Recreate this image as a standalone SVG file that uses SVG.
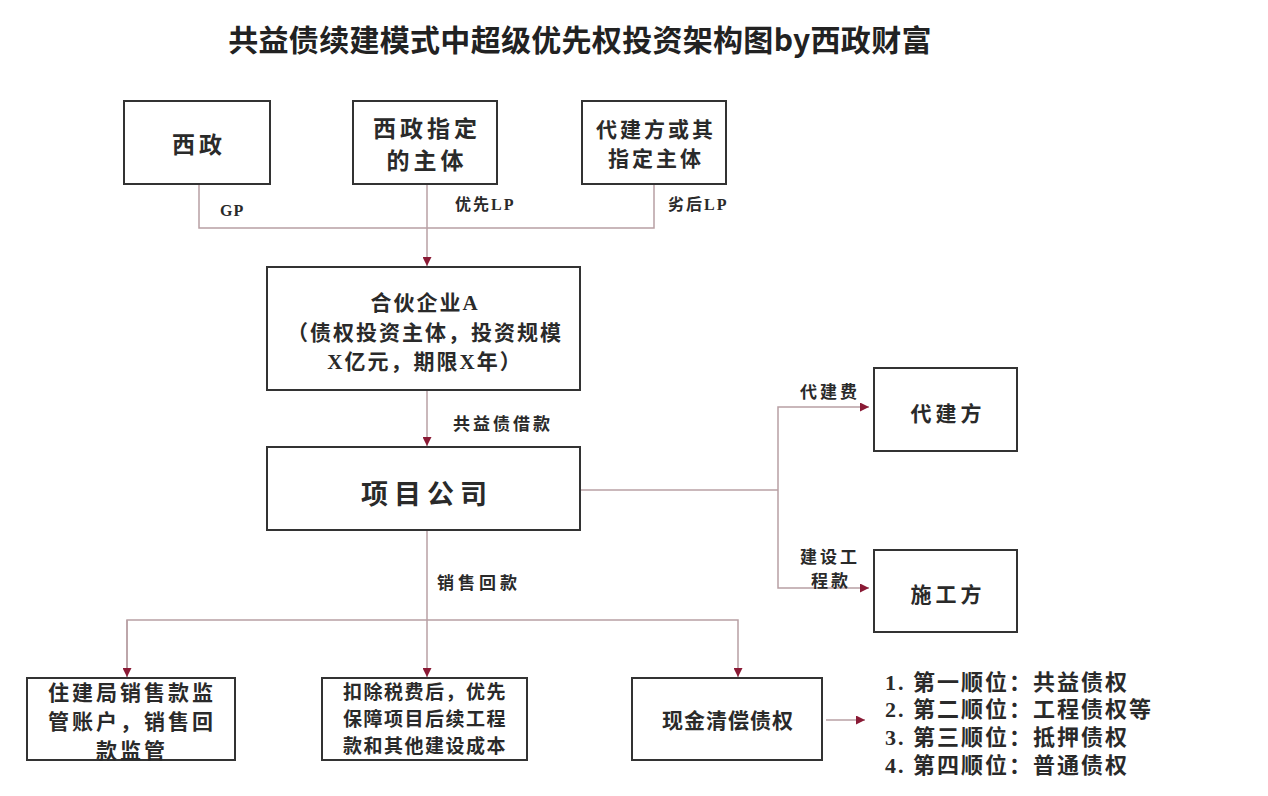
<svg xmlns="http://www.w3.org/2000/svg" width="1268" height="796" viewBox="0 0 1268 796">
<defs>
<style>
.box{fill:#ffffff;stroke:#333333;stroke-width:2}
.t{font-family:"Liberation Serif","Noto Sans CJK SC",serif;font-weight:bold;fill:#2a2a2a;text-anchor:middle}
.l{font-family:"Liberation Serif","Noto Sans CJK SC",serif;font-weight:bold;fill:#2a2a2a}
.c{fill:none;stroke:#b8a0a4;stroke-width:1.5}
.title{font-family:"Noto Sans CJK SC","Liberation Sans",sans-serif;font-weight:bold;fill:#222222;text-anchor:middle}
</style>
<marker id="ah" viewBox="0 0 10 10" refX="10" refY="5" markerWidth="9" markerHeight="9" markerUnits="userSpaceOnUse" orient="auto">
<path d="M0,0 L10,5 L0,10 z" fill="#8a1a35"/>
</marker>
</defs>
<rect width="1268" height="796" fill="#ffffff"/>
<text class="title" x="580" y="51" font-size="30" letter-spacing="0.3">共益债续建模式中超级优先权投资架构图by西政财富</text>

<g id="connectors">
<path class="c" d="M199,184 V228 H654 V184"/>
<path class="c" d="M427,184 V266" marker-end="url(#ah)"/>
<path class="c" d="M427,390 V446" marker-end="url(#ah)"/>
<path class="c" d="M580,490 H778"/>
<path class="c" d="M778,490 V407 H869" marker-end="url(#ah)"/>
<path class="c" d="M778,490 V588 H869" marker-end="url(#ah)"/>
<path class="c" d="M427,530 V677" marker-end="url(#ah)"/>
<path class="c" d="M127,677 V620 H738 V677" marker-end="url(#ah)"/>
<path class="c" d="M127,620 V677" marker-end="url(#ah)"/>
<path class="c" d="M826,720 H865" marker-end="url(#ah)"/>
<text class="l" x="220" y="216" font-size="16" letter-spacing="1">GP</text>
<text class="l" x="455" y="210" font-size="16" letter-spacing="2">优先LP</text>
<text class="l" x="668" y="210" font-size="16" letter-spacing="2">劣后LP</text>
<text class="l" x="453" y="430" font-size="17" letter-spacing="3">共益债借款</text>
<text class="l" x="800" y="398" font-size="17" letter-spacing="3">代建费</text>
<text class="l" x="800" y="563" font-size="17" letter-spacing="3">建设工</text>
<text class="l" x="811" y="587" font-size="17" letter-spacing="3">程款</text>
<text class="l" x="437" y="589" font-size="17" letter-spacing="4">销售回款</text>
</g>

<g id="n-xizheng">
<rect class="box" x="124" y="101" width="146" height="83"/>
<text class="t" x="199" y="153" font-size="23" letter-spacing="4">西政</text>
</g>
<g id="n-designated">
<rect class="box" x="353" y="101" width="144" height="83"/>
<text class="t" x="427" y="137" font-size="23" letter-spacing="4">西政指定</text>
<text class="t" x="427" y="169" font-size="23" letter-spacing="4">的主体</text>
</g>
<g id="n-agent-designated">
<rect class="box" x="582" y="101" width="144" height="83"/>
<text class="t" x="656" y="137" font-size="21" letter-spacing="3">代建方或其</text>
<text class="t" x="656" y="166" font-size="21" letter-spacing="3">指定主体</text>
</g>
<g id="n-partnership">
<rect class="box" x="267" y="267" width="313" height="123"/>
<text class="t" x="425" y="310" font-size="21" letter-spacing="2">合伙企业A</text>
<text class="t" x="425" y="340" font-size="21" letter-spacing="2">（债权投资主体，投资规模</text>
<text class="t" x="425" y="369" font-size="21" letter-spacing="2">X亿元，期限X年）</text>
</g>
<g id="n-project">
<rect class="box" x="267" y="447" width="313" height="83"/>
<text class="t" x="427" y="504" font-size="27" letter-spacing="6">项目公司</text>
</g>
<g id="n-agent">
<rect class="box" x="874" y="368" width="143" height="83"/>
<text class="t" x="948" y="421" font-size="21" letter-spacing="4">代建方</text>
</g>
<g id="n-contractor">
<rect class="box" x="874" y="550" width="143" height="82"/>
<text class="t" x="948" y="602" font-size="21" letter-spacing="4">施工方</text>
</g>
<g id="n-supervision">
<rect class="box" x="27" y="678" width="208" height="82"/>
<text class="t" x="132" y="700" font-size="21" letter-spacing="3">住建局销售款监</text>
<text class="t" x="132" y="729" font-size="21" letter-spacing="3">管账户，销售回</text>
<text class="t" x="132" y="758" font-size="21" letter-spacing="3">款监管</text>
</g>
<g id="n-priority">
<rect class="box" x="322" y="678" width="205" height="82"/>
<text class="t" x="425" y="699" font-size="19" letter-spacing="1.5">扣除税费后，优先</text>
<text class="t" x="425" y="726" font-size="19" letter-spacing="1.5">保障项目后续工程</text>
<text class="t" x="425" y="753" font-size="19" letter-spacing="1.5">款和其他建设成本</text>
</g>
<g id="n-cash">
<rect class="box" x="632" y="678" width="190" height="82"/>
<text class="t" x="728" y="728" font-size="21" letter-spacing="1">现金清偿债权</text>
</g>
<g id="n-order">
<text class="l" x="885" y="690" font-size="22" letter-spacing="2">1. 第一顺位：共益债权</text>
<text class="l" x="885" y="717" font-size="22" letter-spacing="2">2. 第二顺位：工程债权等</text>
<text class="l" x="885" y="745" font-size="22" letter-spacing="2">3. 第三顺位：抵押债权</text>
<text class="l" x="885" y="773" font-size="22" letter-spacing="2">4. 第四顺位：普通债权</text>
</g>
</svg>
